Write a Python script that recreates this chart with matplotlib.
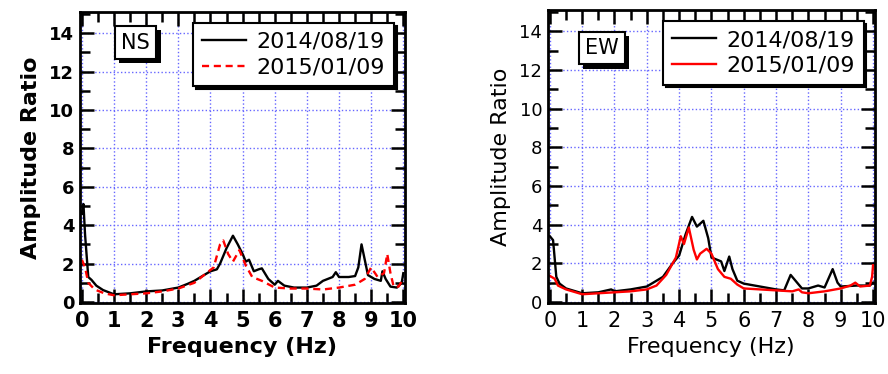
import matplotlib
matplotlib.use('Agg')
import matplotlib.pyplot as plt
import matplotlib.patheffects as pe
from matplotlib.ticker import MultipleLocator

# NS component
ns_f_2014 = [0.0, 0.05, 0.1, 0.2, 0.3, 0.45, 0.66, 1.0, 1.5, 2.0, 2.5, 3.0, 3.3, 3.5, 3.8, 4.0,
             4.2, 4.3, 4.5, 4.7, 4.85, 5.0, 5.1, 5.2, 5.35, 5.5, 5.6, 5.8, 6.0, 6.1, 6.3, 6.6,
             7.0, 7.3, 7.5, 7.8, 7.9, 8.0, 8.3, 8.5, 8.6, 8.7, 8.8, 8.9, 9.1, 9.3, 9.35, 9.45,
             9.6, 9.8, 9.95, 10.0]
ns_a_2014 = [4.6, 5.1, 3.5, 1.3, 1.15, 0.85, 0.62, 0.4, 0.45, 0.55, 0.6, 0.75, 0.95, 1.1, 1.4, 1.6,
             1.7, 2.0, 2.8, 3.45, 3.0, 2.5, 2.1, 2.2, 1.6, 1.7, 1.75, 1.2, 0.9, 1.1, 0.85, 0.75,
             0.75, 0.85, 1.1, 1.3, 1.55, 1.3, 1.3, 1.35, 1.8, 3.0, 2.2, 1.4, 1.2, 1.1, 1.6, 1.2,
             0.8, 0.75, 1.0, 1.5]
ns_f_2015 = [0.0, 0.1, 0.2, 0.4, 0.7, 1.0, 1.5, 2.0, 2.5, 3.0, 3.5, 3.8, 4.1, 4.3, 4.4, 4.55,
             4.7, 4.9, 5.1, 5.3, 5.6, 6.0, 6.5, 7.0, 7.5, 8.0, 8.5, 8.8, 9.0, 9.2, 9.4, 9.5,
             9.6, 9.7, 9.85, 10.0]
ns_a_2015 = [2.2, 1.8, 1.0, 0.65, 0.45, 0.35, 0.4, 0.45, 0.55, 0.7, 1.0, 1.4, 1.8, 3.0, 3.2, 2.5,
             2.1, 2.7, 1.9, 1.3, 1.1, 0.75, 0.7, 0.7, 0.65, 0.75, 0.9, 1.2, 1.8, 1.3, 1.5, 2.5,
             1.5, 0.8, 0.8, 1.2]

# EW component
ew_f_2014 = [0.0, 0.1, 0.2, 0.3, 0.5, 1.0, 1.5, 1.9, 2.0, 2.5, 3.0, 3.5, 3.8, 4.0, 4.2, 4.4,
             4.55, 4.75, 4.9, 5.0, 5.3, 5.4, 5.55, 5.65, 5.8, 6.0, 6.5, 7.0, 7.25, 7.45, 7.65,
             7.8, 8.0, 8.3, 8.5, 8.75, 8.9, 9.0, 9.5, 9.9, 10.0]
ew_a_2014 = [3.4, 3.2, 1.3, 0.95, 0.7, 0.45, 0.5, 0.65, 0.55, 0.65, 0.8, 1.3, 2.0, 2.4, 3.5, 4.4,
             3.9, 4.2, 3.3, 2.3, 2.1, 1.6, 2.35, 1.7, 1.1, 0.95, 0.8, 0.65, 0.6, 1.4, 1.0,
             0.7, 0.7, 0.85, 0.75, 1.7, 1.0, 0.8, 0.85, 0.85, 1.0]
ew_f_2015 = [0.0, 0.15, 0.25, 0.5, 1.0, 1.5, 2.0, 2.5, 3.0, 3.3, 3.6, 3.9, 4.05, 4.15, 4.3, 4.45,
             4.55, 4.65, 4.85, 5.0, 5.2, 5.4, 5.6, 5.8, 6.0, 6.5, 7.0, 7.5, 7.7, 7.8, 8.0, 8.5,
             9.0, 9.3, 9.45, 9.6, 9.9, 9.97, 10.0]
ew_a_2015 = [1.35, 1.2, 0.85, 0.65, 0.4, 0.45, 0.5, 0.55, 0.65, 0.85, 1.4, 2.3, 3.4, 3.0, 3.85, 2.7,
             2.2, 2.5, 2.75, 2.5, 1.7, 1.3, 1.2, 0.9, 0.7, 0.65, 0.6, 0.55, 0.65, 0.5, 0.45, 0.55,
             0.7, 0.85, 1.0, 0.8, 0.85, 1.3, 1.9]

labels = ['2014/08/19', '2015/01/09']

fig = plt.figure(figsize=(8.88, 3.74), dpi=100)
ax1 = fig.add_axes([0.090, 0.19, 0.366, 0.778])
ax2 = fig.add_axes([0.617, 0.19, 0.368, 0.783])


def style(ax, weight, name, pos):
    ax.set_xlim(-0.06, 10.05)
    ax.set_ylim(-0.05, 15.1)
    ax.xaxis.set_major_locator(MultipleLocator(1))
    ax.xaxis.set_minor_locator(MultipleLocator(0.5))
    ax.yaxis.set_major_locator(MultipleLocator(2))
    ax.yaxis.set_minor_locator(MultipleLocator(1))
    ax.tick_params(which='both', direction='in', top=True, right=True, width=1.8)
    ax.tick_params(which='major', length=10)
    ax.tick_params(which='minor', length=7)
    ax.tick_params(axis='x', labelsize=15, pad=6)
    ax.tick_params(axis='y', labelsize=13, pad=4)
    for lab in ax.get_xticklabels() + ax.get_yticklabels():
        lab.set_fontweight(weight)
    for s in ax.spines.values():
        s.set_linewidth(2)
    ax.grid(True, which='major', color='#6666ff', linestyle=':', linewidth=1)
    ax.set_axisbelow(True)
    ax.set_xlabel('Frequency (Hz)', fontsize=16, fontweight=weight, labelpad=4)
    ax.set_ylabel('Amplitude Ratio', fontsize=16, fontweight=weight, labelpad=6)
    t = ax.text(pos[0], pos[1], name, transform=ax.transAxes, fontsize=15, ha='center', va='center',
                bbox=dict(boxstyle='square,pad=0.3', fc='white', ec='black', lw=1.5))
    t.get_bbox_patch().set_path_effects([
        pe.SimplePatchShadow(offset=(3, -3), shadow_rgbFace='black', alpha=1.0), pe.Normal()])
    leg = ax.legend(loc='upper right', fontsize=16, handlelength=2.0, borderaxespad=0.5,
                    fancybox=False, labelspacing=0.25, borderpad=0.4, handletextpad=0.45,
                    shadow={'color': 'black', 'alpha': 1.0})
    leg.get_frame().set_edgecolor('black')
    leg.get_frame().set_linewidth(1.5)
    leg.set_zorder(10)


ax1.plot(ns_f_2014, ns_a_2014, color='black', lw=1.7, label=labels[0])
ax1.plot(ns_f_2015, ns_a_2015, color='red', lw=1.7, ls=(0, (3, 2)), label=labels[1])
style(ax1, 'bold', 'NS', (0.172, 0.895))

ax2.plot(ew_f_2014, ew_a_2014, color='black', lw=1.7, label=labels[0])
ax2.plot(ew_f_2015, ew_a_2015, color='red', lw=1.7, label=labels[1])
style(ax2, 'normal', 'EW', (0.165, 0.87))

fig.savefig('out.png', dpi=100)
